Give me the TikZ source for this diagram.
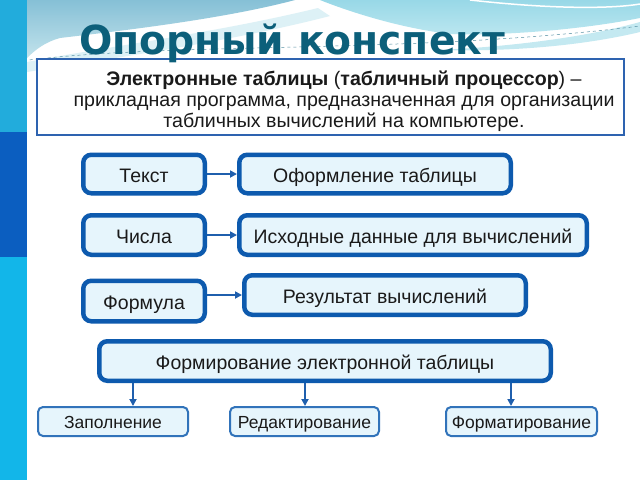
\documentclass[tikz,border=0pt]{standalone}
\usepackage{fontspec}
\setmainfont{Liberation Sans}
\newfontfamily\titlefont{DejaVu Sans}[FakeStretch=0.98]
\usetikzlibrary{arrows.meta,calc}
\definecolor{boxblue}{HTML}{0D5AAE}
\definecolor{boxfill}{HTML}{E6F5FC}
\definecolor{arrblue}{HTML}{1F5FAD}
\definecolor{deftxtborder}{HTML}{2E63B0}
\definecolor{titlecol}{HTML}{0C5F7A}
\definecolor{txt}{HTML}{1A1A1A}
\definecolor{stripA}{HTML}{22ACDC}
\definecolor{stripB}{HTML}{0B5EC0}
\definecolor{stripC}{HTML}{12B6E9}
\definecolor{skyA}{HTML}{86C0D6}
\definecolor{skyB}{HTML}{C2E3EC}
\definecolor{lensA}{HTML}{98D8E7}
\definecolor{lensB}{HTML}{BCE7F0}
\definecolor{fadeband}{HTML}{DDF1F6}
\definecolor{tailcol}{HTML}{C4E9F1}
\tikzset{
  mainbox/.style={draw=boxblue, line width=4.5pt, fill=boxfill, rounded corners=8pt,
    inner sep=0pt, text=txt, text height=16pt, text depth=0pt, font=\fontsize{19.5}{21}\selectfont},
  smallbox/.style={draw=boxblue!85!white, line width=2pt, fill=boxfill, rounded corners=5pt,
    inner sep=0pt, text=txt, minimum height=29pt, text height=14pt, text depth=0pt, font=\fontsize{17.5}{19}\selectfont},
  arr/.style={draw=arrblue, line width=2pt, -{Triangle[length=7pt,width=7pt]}},
}
\begin{document}
\begin{tikzpicture}[x=1pt,y=-1pt]
\useasboundingbox (0,0) rectangle (640,480);
% background
\fill[white] (0,0) rectangle (640,480);
\shade[top color=skyA, bottom color=skyB] (27,0) -- (295,0) .. controls (220,20) and (110,32) .. (60,38) .. controls (45,42) and (35,50) .. (27,58) -- cycle;
\fill[fadeband] (27,62) .. controls (100,48) and (220,32) .. (318,8) -- (330,16) .. controls (230,42) and (100,60) .. (27,72) -- cycle;
\shade[top color=lensA, bottom color=lensB] (320,0) -- (640,0) -- (640,18) .. controls (580,30) and (500,36) .. (450,34) .. controls (400,28) and (350,12) .. (320,0) -- cycle;
\draw[white, line width=1.5pt] (470,0) .. controls (550,9) and (610,9) .. (640,4);
\fill[tailcol] (440,50) .. controls (520,46) and (590,36) .. (640,22) -- (640,32) .. controls (590,44) and (520,52) .. (440,50) -- cycle;
\draw[titlecol!70!white, line width=0.5pt, dashed] (0,64) .. controls (150,40) and (400,56) .. (640,26);
\fill[stripA] (0,0) rectangle (27,132);
\fill[stripB] (0,132) rectangle (27,257);
\fill[stripC] (0,257) rectangle (27,480);
% definition box
\draw[draw=deftxtborder, line width=2.5pt, fill=white] (37,59) rectangle (624,135);
\node[text=titlecol, font=\titlefont\bfseries\fontsize{40}{44}\selectfont, anchor=base] (title) at (292,54) {Опорный конспект};
\node[align=center, text=txt, font=\fontsize{19.6}{21}\selectfont, inner sep=0pt] (def) at (344,101)
  {\textbf{Электронные таблицы} (\textbf{табличный процессор}) –\\
   прикладная программа, предназначенная для организации\\
   табличных вычислений на компьютере.};
% main boxes
\node[mainbox, minimum width=121.5pt, minimum height=38.5pt] (tekst) at (144,174) {Текст};
\node[mainbox, minimum width=271.5pt, minimum height=38.5pt] (oform) at (375,174) {Оформление таблицы};
\node[mainbox, minimum width=121.5pt, minimum height=39.5pt] (chisla) at (144,235) {Числа};
\node[mainbox, minimum width=347.5pt, minimum height=39.5pt] (ishod) at (413,235) {Исходные данные для вычислений};
\node[mainbox, minimum width=121.5pt, minimum height=40.5pt] (formula) at (144,301) {Формула};
\node[mainbox, minimum width=281.5pt, minimum height=39.5pt] (result) at (385,295) {Результат вычислений};
\node[mainbox, minimum width=451.5pt, minimum height=39.5pt] (form) at (325,361) {Формирование электронной таблицы};
% small boxes
\node[smallbox, minimum width=150pt] (zap) at (113,421.5) {Заполнение};
\node[smallbox, minimum width=149pt] (red) at (304.5,421.5) {Редактирование};
\node[smallbox, minimum width=151pt] (fmt) at (521.5,421.5) {Форматирование};
% connectors
\draw[arr] (tekst.east) -- (oform.west);
\draw[arr] (chisla.east) -- (ishod.west);
\draw[arr] (result.west -| formula.east) -- (result.west);
\coordinate (z1) at ([xshift=20pt]zap.north);
\coordinate (z2) at ([xshift=0.5pt]red.north);
\coordinate (z3) at ([xshift=-10.5pt]fmt.north);
\draw[arr] (z1 |- form.south) -- (z1);
\draw[arr] (z2 |- form.south) -- (z2);
\draw[arr] (z3 |- form.south) -- (z3);
\end{tikzpicture}
\end{document}
